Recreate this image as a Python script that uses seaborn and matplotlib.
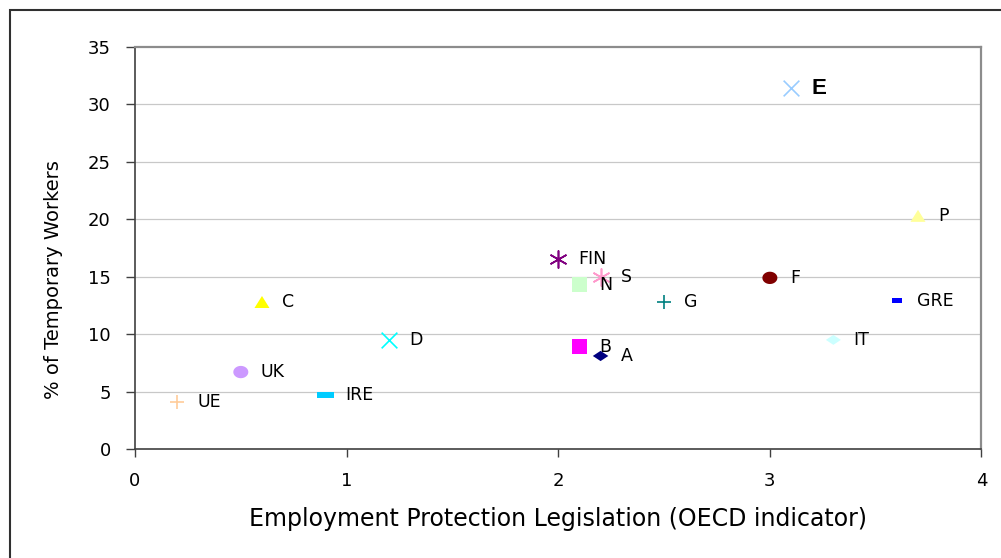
import numpy as np
import matplotlib
matplotlib.use("Agg")
import matplotlib.pyplot as plt
import seaborn as sns
from matplotlib.patches import Rectangle

# ---- data ----
countries = ["UE", "UK", "C", "IRE", "D", "FIN", "S", "N", "G", "B", "A", "E", "P", "F", "GRE", "IT"]
epl = [0.2, 0.5, 0.6, 0.9, 1.2, 2.0, 2.2, 2.1, 2.5, 2.1, 2.2, 3.1, 3.7, 3.0, 3.6, 3.3]
temp_workers = [4.1, 6.7, 12.8, 4.7, 9.5, 16.5, 15.0, 14.3, 12.8, 8.9, 8.1, 31.4, 20.3, 14.9, 12.9, 9.5]
x_ticks = [0, 1, 2, 3, 4]
y_ticks = [0, 5, 10, 15, 20, 25, 30, 35]
x_label = "Employment Protection Legislation (OECD indicator)"
y_label = "% of Temporary Workers"

# ---- marker shapes ----
t = np.linspace(0, 2 * np.pi, 41)
ellipse = list(zip(np.cos(t), 0.82 * np.sin(t)))
dash_long = [(-1, -0.3), (1, -0.3), (1, 0.3), (-1, 0.3), (-1, -0.3)]
dash_short = [(-1, -0.5), (1, -0.5), (1, 0.5), (-1, 0.5), (-1, -0.5)]
diamond = [(-1, 0), (0, 0.66), (1, 0), (0, -0.66), (-1, 0)]
triangle = [(-1, -0.8), (1, -0.8), (0, 0.8), (-1, -0.8)]
asterisk = (6, 2, 0)

# marker, color, size, filled
styles = {
    "UE": ("+", "#FFCC99", 115, False),
    "UK": (ellipse, "#CC99FF", 117, True),
    "C": (triangle, "#FFFF00", 117, True),
    "IRE": (dash_long, "#00CCFF", 150, True),
    "D": ("x", "#00FFFF", 128, False),
    "FIN": (asterisk, "#800080", 150, False),
    "S": (asterisk, "#FF99CC", 150, False),
    "N": ("s", "#CCFFCC", 115, True),
    "G": ("+", "#008080", 115, False),
    "B": ("s", "#FF00FF", 110, True),
    "A": (diamond, "#000080", 125, True),
    "E": ("x", "#99CCFF", 128, False),
    "P": (triangle, "#FFFF99", 117, True),
    "F": (ellipse, "#800000", 117, True),
    "GRE": (dash_short, "#0000FF", 52, True),
    "IT": (diamond, "#CCFFFF", 117, True),
}

sns.set_style("white")
plt.rcParams["font.family"] = ["DejaVu Sans"]
plt.rcParams["text.color"] = "black"
plt.rcParams["axes.labelcolor"] = "black"
plt.rcParams["xtick.color"] = "black"
plt.rcParams["ytick.color"] = "black"

fig = plt.figure(figsize=(10.01, 5.58), dpi=100)
ax = fig.add_axes([135 / 1001, 1 - 449 / 558, (981.5 - 135) / 1001, (449 - 47) / 558])

for name, xv, yv in zip(countries, epl, temp_workers):
    m, c, s, filled = styles[name]
    if filled:
        sns.scatterplot(x=[xv], y=[yv], marker=m, color=c, s=s, linewidth=0,
                        edgecolor="none", ax=ax, zorder=3, legend=False)
    else:
        sns.scatterplot(x=[xv], y=[yv], marker=m, color=c, s=s, linewidth=1.2,
                        ax=ax, zorder=3, legend=False)
    if name == "E":
        ax.annotate(name, (xv, yv), xytext=(14.4, 0), textcoords="offset points",
                    ha="left", va="center", fontsize=16, fontweight="bold",
                    color="black", family=["Liberation Sans"])
    else:
        ax.annotate(name, (xv, yv), xytext=(14.4, 0), textcoords="offset points",
                    ha="left", va="center", fontsize=12.5, color="black")

ax.set_xlim(x_ticks[0], x_ticks[-1])
ax.set_ylim(y_ticks[0], y_ticks[-1])
ax.set_xticks(x_ticks)
ax.set_yticks(y_ticks)
ax.set_xticklabels([str(v) for v in x_ticks])
ax.set_yticklabels([str(v) for v in y_ticks])
for yv in y_ticks[1:-1]:
    ax.axhline(yv, color="#C8C8C8", lw=0.9, zorder=1)

ax.tick_params(axis="y", direction="out", length=6.5, width=1.0, color="#404040",
               labelcolor="black", labelsize=13, pad=11, left=True)
ax.tick_params(axis="x", direction="out", length=5.5, width=1.0, color="#404040",
               labelcolor="black", labelsize=13, pad=11, bottom=True)

for side in ["left", "bottom"]:
    ax.spines[side].set_color("#404040")
    ax.spines[side].set_linewidth(1.2)
for side in ["top", "right"]:
    ax.spines[side].set_color("#8C8C8C")
    ax.spines[side].set_linewidth(1.6)

ax.set_xlabel(x_label, fontsize=17, labelpad=12, color="black")
ax.set_ylabel(y_label, fontsize=14, color="black")
ax.yaxis.set_label_coords((63 - 135) / 846.5, (449 - 280) / 402)

# outer chart frame
fig.patches.append(Rectangle((10 / 1001, -0.1), 1.2, 1 - 10 / 558 + 0.1,
                             transform=fig.transFigure, fill=False,
                             edgecolor="#303030", lw=1.5, clip_on=False))

fig.savefig("out.png", dpi=100)
